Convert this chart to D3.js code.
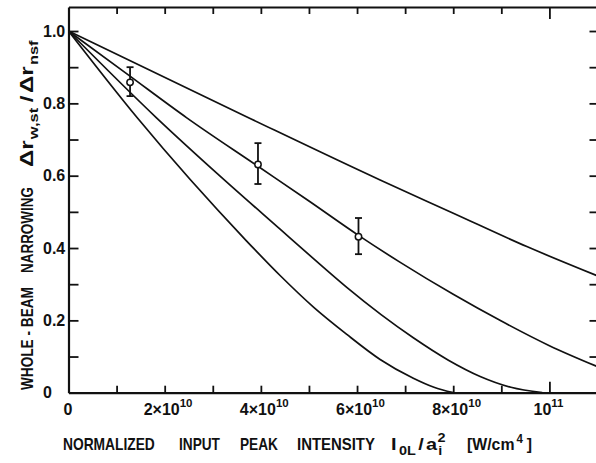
<!DOCTYPE html>
<html>
<head>
<meta charset="utf-8">
<script src="https://cdn.jsdelivr.net/npm/d3@7"></script>
<style>
  html, body { margin: 0; padding: 0; background: #fff; }
  svg { display: block; }
</style>
</head>
<body>
<div id="chart"></div>
<script>
// x values in units of 1e10 W/cm^4
const curveTop = [[0, 1], [3.7, 0.763], [6.48, 0.588], [7.99, 0.497], [9.53, 0.404], [11, 0.323]];
const curveSecond = [[0, 1], [1.25, 0.878], [2.46, 0.760], [3.94, 0.626], [5.0, 0.530], [6.03, 0.435], [6.89, 0.361], [8.0, 0.272], [9.0, 0.198], [10.0, 0.130], [11, 0.072]];
const curveThird = [[0, 1], [1.83, 0.760], [3.1, 0.605], [4.4, 0.452], [5.1, 0.370], [5.78, 0.292], [6.5, 0.216], [7.17, 0.152], [7.9, 0.090], [8.56, 0.045], [9.2, 0.015], [9.85, 0]];
const curveBottom = [[0, 1], [1.43, 0.760], [3.7, 0.420], [4.4, 0.324], [5.1, 0.236], [5.78, 0.162], [6.48, 0.092], [7.17, 0.040], [7.6, 0.015], [8.0, 0]];

// measured points with error bars
const pointX = [1.28, 3.94, 6.03];
const pointY = [0.858, 0.631, 0.431];
const pointLow = [0.820, 0.577, 0.383];
const pointHigh = [0.900, 0.690, 0.483];

const xTickValues = [1, 2, 3, 4, 5, 6, 7, 8, 9, 10];
const xTickLabels = [
  { v: 0, base: "0", sup: "" },
  { v: 2, base: "2×10", sup: "10" },
  { v: 4, base: "4×10", sup: "10" },
  { v: 6, base: "6×10", sup: "10" },
  { v: 8, base: "8×10", sup: "10" },
  { v: 10, base: "10", sup: "11" }
];
const yTickValues = [0.1, 0.2, 0.3, 0.4, 0.5, 0.6, 0.7, 0.8, 0.9, 1.0];
const yTickLabels = ["0", "0.2", "0.4", "0.6", "0.8", "1.0"];

const width = 596, height = 463;
const margin = { top: 7, right: -1.5, bottom: 70.3, left: 68.5 };

const FONT = "'Liberation Sans', Arial, sans-serif";
const ink = "#111";

const svg = d3.select("#chart")
  .append("svg")
  .attr("width", width)
  .attr("height", height)
  .style("background-color", "#fff");

const x = d3.scaleLinear().domain([0, 11]).range([margin.left, width - margin.right]);
const y = d3.scaleLinear().domain([0, 1.0664]).range([height - margin.bottom, margin.top]);

// axes: ticks point inward
const bottomAxis = svg.append("g")
  .attr("transform", `translate(0,${y(0)})`)
  .call(d3.axisBottom(x).tickValues(xTickValues).tickSize(-7).tickSizeOuter(0).tickFormat(""));
bottomAxis.selectAll(".tick line").filter(d => d === 10).attr("y2", -11);

const topAxis = svg.append("g")
  .attr("transform", `translate(0,${y(1.0664)})`)
  .call(d3.axisTop(x).tickValues(xTickValues).tickSize(-7).tickSizeOuter(0).tickFormat(""));
topAxis.selectAll(".tick line").filter(d => d === 10).attr("y2", 12);

svg.append("g")
  .attr("transform", `translate(${x(0)},0)`)
  .call(d3.axisLeft(y).tickValues(yTickValues).tickSize(-10).tickSizeOuter(0).tickFormat(""));

svg.append("g")
  .attr("transform", `translate(${x(11)},0)`)
  .call(d3.axisRight(y).tickValues(yTickValues).tickSize(-8).tickSizeOuter(0).tickFormat(""));

svg.selectAll(".domain").attr("stroke", ink).attr("stroke-width", 2.2);
svg.selectAll(".tick line").attr("stroke", ink).attr("stroke-width", 1.8);

// y tick labels
svg.append("g").selectAll("text")
  .data(yTickLabels)
  .join("text")
  .attr("x", 43)
  .attr("y", d => y(+d))
  .attr("dy", "0.36em")
  .attr("font-family", FONT)
  .attr("font-weight", "bold")
  .attr("font-size", 16)
  .attr("fill", ink)
  .text(d => d);

// x tick labels with superscript exponents
const xLab = svg.append("g").selectAll("text")
  .data(xTickLabels)
  .join("text")
  .attr("y", 415)
  .attr("font-family", FONT)
  .attr("font-weight", "bold")
  .attr("font-size", 16)
  .attr("fill", ink);
xLab.append("tspan").attr("class", "base").text(d => d.base);
xLab.append("tspan").attr("dy", -8).attr("font-size", 11.5).text(d => d.sup);
xLab.each(function(d) {
  const baseW = d3.select(this).select(".base").node().getComputedTextLength();
  const shift = d.v === 10 ? -7 : (d.v === 0 ? -0.5 : -3);
  d3.select(this).attr("x", x(d.v) + shift - baseW / 2);
});

// curves
const line = d3.line()
  .x(d => x(d[0]))
  .y(d => y(d[1]))
  .curve(d3.curveMonotoneX);

svg.append("g").selectAll("path")
  .data([curveTop, curveSecond, curveThird, curveBottom])
  .join("path")
  .attr("d", line)
  .attr("fill", "none")
  .attr("stroke", ink)
  .attr("stroke-width", 1.7);

// error bars and open circles
const pts = svg.append("g").selectAll("g")
  .data(pointX.map((v, i) => ({ x: v, y: pointY[i], lo: pointLow[i], hi: pointHigh[i] })))
  .join("g");
pts.append("line")
  .attr("x1", d => x(d.x)).attr("x2", d => x(d.x))
  .attr("y1", d => y(d.lo)).attr("y2", d => y(d.hi))
  .attr("stroke", ink).attr("stroke-width", 1.8);
pts.selectAll(".cap")
  .data(d => [{ x: d.x, v: d.lo }, { x: d.x, v: d.hi }])
  .join("line")
  .attr("x1", d => x(d.x) - 3.5).attr("x2", d => x(d.x) + 3.5)
  .attr("y1", d => y(d.v)).attr("y2", d => y(d.v))
  .attr("stroke", ink).attr("stroke-width", 1.8);
pts.append("circle")
  .attr("cx", d => x(d.x)).attr("cy", d => y(d.y))
  .attr("r", 3.2)
  .attr("fill", "#fff").attr("stroke", ink).attr("stroke-width", 1.5);

// title words: each squeezed horizontally to the narrow lettering of the original
function word(build, place, targetW, size = 16.5) {
  const g = svg.append("g");
  const t = g.append("text")
    .attr("font-family", FONT)
    .attr("font-weight", "bold")
    .attr("font-size", size)
    .attr("fill", ink);
  build(t);
  const w = t.node().getBBox().width;
  g.attr("transform", `${place} scale(${targetW / w},1)`);
}
const small = (t, s, dx, dy) => t.append("tspan").attr("dx", dx).attr("dy", dy).attr("font-size", 12).text(s);

// x axis title (baseline y=450)
word(t => t.text("NORMALIZED"), "translate(63,450)", 92);
word(t => t.text("INPUT"), "translate(179,450)", 41);
word(t => t.text("PEAK"), "translate(240,450)", 38);
word(t => t.text("INTENSITY"), "translate(297,450)", 78);
word(t => {
  t.append("tspan").text("I");
  small(t, "0L", 2, 5);
  t.append("tspan").attr("dx", 2).attr("dy", -5).text("/");
  t.append("tspan").attr("dx", 2).text("a");
  small(t, "i", 1, 5);
  small(t, "2", -4, -13);
}, "translate(391,450)", 55);
word(t => {
  t.append("tspan").text("[W/cm");
  small(t, "4", 2, -7);
  t.append("tspan").attr("dx", 4).attr("dy", 7).text("]");
}, "translate(467,450)", 65);

// y axis title, rotated (baseline x=33)
word(t => t.text("WHOLE - BEAM"), "translate(33,390) rotate(-90)", 103);
word(t => t.text("NARROWING"), "translate(33,273) rotate(-90)", 86);
word(t => {
  t.append("tspan").text("Δr");
  small(t, "w,st", 1, 5);
  t.append("tspan").attr("dx", 4).attr("dy", -5).text("/");
  t.append("tspan").attr("dx", 2).text("Δr");
  small(t, "nsf", 1, 5);
}, "translate(33,167) rotate(-90)", 128, 17.5);
</script>
</body>
</html>
